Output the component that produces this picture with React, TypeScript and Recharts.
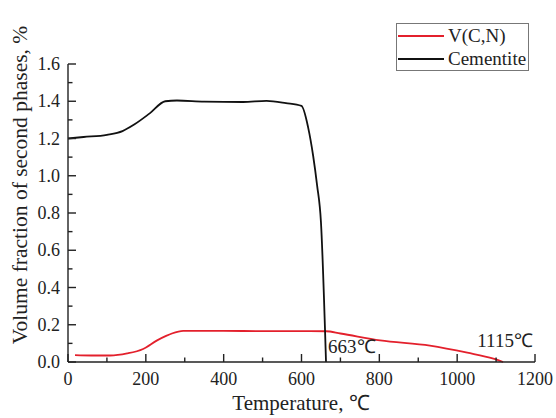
import { LineChart, Line, XAxis, YAxis, Legend, ReferenceDot } from "recharts"

const vcnTemp = [18, 60, 108, 152, 193, 229, 252, 267, 296, 400, 500, 600, 663, 700, 802, 930, 1026, 1093, 1118]
const vcnFrac = [0.037, 0.035, 0.035, 0.046, 0.07, 0.116, 0.14, 0.153, 0.167, 0.167, 0.166, 0.166, 0.165, 0.153, 0.116, 0.088, 0.05, 0.018, 0]

const cemTemp = [0, 40, 100, 140, 170, 210, 250, 280, 350, 450, 510, 560, 600, 617, 630, 640, 650, 663]
const cemFrac = [1.2, 1.208, 1.22, 1.24, 1.275, 1.335, 1.4, 1.404, 1.398, 1.396, 1.402, 1.39, 1.375, 1.26, 1.106, 0.95, 0.75, 0]

const xMajor = [0, 200, 400, 600, 800, 1000, 1200]
const xMinor = [100, 300, 500, 700, 900, 1100]
const yMajor = [0, 0.2, 0.4, 0.6, 0.8, 1.0, 1.2, 1.4, 1.6]
const yMinor = [0.1, 0.3, 0.5, 0.7, 0.9, 1.1, 1.3, 1.5]

const seriesOrder = ["V(C,N)", "Cementite"]

const vcnData = vcnTemp.map((t, i) => ({ t, v: vcnFrac[i] }))
const cemData = cemTemp.map((t, i) => ({ t, v: cemFrac[i] }))

const font = "Liberation Serif, Times New Roman, serif"
const ink = "#222"
const axisColor = "#222"

// inward tick marks drawn by the tick component, labels only on major ticks
function XTick({ x, y, payload }: any) {
  const major = xMajor.includes(payload.value)
  const len = major ? 8 : 4.5
  return (
    <g>
      <rect x={x - 0.7} y={y - len} width={1.4} height={len} fill={axisColor} />
      {major && (
        <text x={x} y={y + 23} textAnchor="middle" fontSize={18} fontFamily={font} fill={ink}>
          {payload.value}
        </text>
      )}
    </g>
  )
}

function YTick({ x, y, payload }: any) {
  const major = yMajor.includes(payload.value)
  return (
    <g>
      <rect x={x} y={y - 0.7} width={major ? 8 : 4.5} height={1.4} fill={axisColor} />
      {major && (
        <text x={x - 8} y={y + 6} textAnchor="end" fontSize={18} fontFamily={font} fill={ink}>
          {Number(payload.value).toFixed(1)}
        </text>
      )}
    </g>
  )
}

function LegendBox({ payload }: any) {
  const items = [...(payload || [])].sort((a: any, b: any) => seriesOrder.indexOf(a.value) - seriesOrder.indexOf(b.value))
  return (
    <div style={{ border: "1px solid #777", background: "#fff", padding: "0 2px 0 1px", fontFamily: font, fontSize: 19, color: ink, lineHeight: "23px" }}>
      {items.map((p: any) => (
        <div key={p.value} style={{ display: "flex", alignItems: "center" }}>
          <span style={{ display: "inline-block", width: 46, height: 2, background: p.color, marginRight: 4 }} />
          <span>{p.value}</span>
        </div>
      ))}
    </div>
  )
}

export default function App() {
  return (
    <div style={{ position: "absolute", left: 0, top: 0, width: 556, height: 418, background: "#fff" }}>
      <LineChart width={556} height={418} margin={{ top: 16, right: 21, left: 28, bottom: 26 }}>
        <XAxis
          dataKey="t"
          type="number"
          domain={[0, 1200]}
          ticks={[...xMajor, ...xMinor].sort((a, b) => a - b)}
          interval={0}
          tickSize={0}
          tickMargin={0}
          tickLine={false}
          height={30}
          stroke={axisColor}
          strokeWidth={1.4}
          tick={<XTick />}
        />
        <XAxis xAxisId="top" orientation="top" type="number" domain={[0, 1200]} height={0} tick={false} tickLine={false} stroke={axisColor} strokeWidth={1.4} />
        <YAxis
          type="number"
          domain={[0, 1.6]}
          ticks={[...yMajor, ...yMinor].sort((a, b) => a - b)}
          interval={0}
          tickSize={0}
          tickMargin={0}
          tickLine={false}
          width={40}
          stroke={axisColor}
          strokeWidth={1.4}
          tick={<YTick />}
        />
        <YAxis yAxisId="right" orientation="right" domain={[0, 1.6]} width={0} tick={false} tickLine={false} stroke={axisColor} strokeWidth={1.4} />

        <Legend
          verticalAlign="top"
          content={<LegendBox />}
          wrapperStyle={{ position: "absolute", left: 396, top: 23, width: "auto" }}
        />
        <Line data={vcnData} dataKey="v" name="V(C,N)" type="monotone" stroke="#e3202c" strokeWidth={1.8} dot={false} isAnimationActive={false} />
        <Line data={cemData} dataKey="v" name="Cementite" type="monotone" stroke="#111" strokeWidth={1.8} dot={false} isAnimationActive={false} />
        <ReferenceDot
          x={663}
          y={0}
          r={0}
          shape={(p: any) => (
            <text x={p.cx + 2} y={p.cy - 9} fontSize={19} fontFamily={font} fill={ink}>
              663℃
            </text>
          )}
        />
        <ReferenceDot
          x={1115}
          y={0}
          r={0}
          shape={(p: any) => (
            <text x={p.cx + 31} y={p.cy - 15} textAnchor="end" fontSize={19} fontFamily={font} fill={ink}>
              1115℃
            </text>
          )}
        />
      </LineChart>
      <svg width={556} height={418} style={{ position: "absolute", left: 0, top: 0, pointerEvents: "none" }}>
        <text x={301} y={410} textAnchor="middle" fontSize={21} fontFamily={font} fill={ink}>
          Temperature, ℃
        </text>
        <text x={27} y={185} transform="rotate(-90 27 185)" textAnchor="middle" fontSize={21.5} fontFamily={font} fill={ink}>
          Volume fraction of second phases, %
        </text>
      </svg>
    </div>
  )
}
